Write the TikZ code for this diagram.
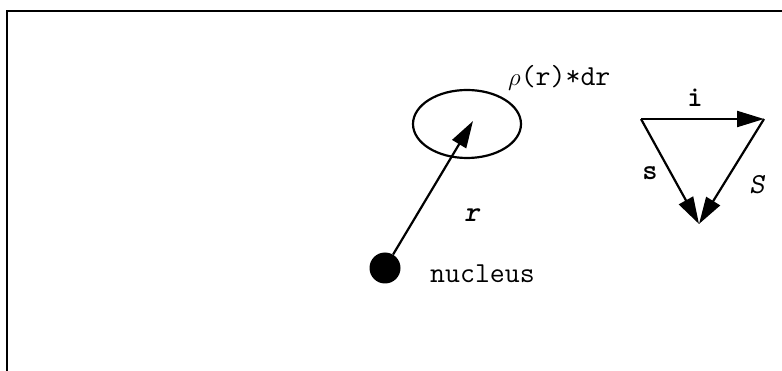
\documentclass[tikz,border=0pt]{standalone}
\usetikzlibrary{arrows.meta, positioning, shapes.geometric}

\begin{document}
\begin{tikzpicture}[x=1pt, y=-1pt,
      vec/.style={-{Triangle[length=27pt, width=16pt]}, line width=2.2pt},
      lbl/.style={font=\fontsize{29}{32}\selectfont\ttfamily, inner sep=0pt},
      bold/.style={font=\fontsize{29}{32}\selectfont\ttfamily\fontseries{b}\selectfont},
      bolditl/.style={font=\fontsize{29}{32}\selectfont\ttfamily\fontseries{b}\fontshape{sl}\selectfont},
      itl/.style={font=\fontsize{29}{32}\selectfont\ttfamily\fontshape{sl}\selectfont}]
    \useasboundingbox (0,0) rectangle (782,371);
    \draw[line width=2.5pt] (7,371) -- (7,11) -- (782,11);
    % electron density element
    \node[circle, fill, minimum size=31pt, inner sep=0pt] (nuc) at (385,268) {};
    \node[ellipse, draw, line width=2.2pt, minimum width=108pt, minimum height=68pt] (elem) at (467,124) {};
    \coordinate (tip) at (473,121);
    \draw[vec] (nuc) -- (tip);
    \node[lbl, bolditl] (rlab) at (472,215) {r};
    \node[lbl, anchor=base west] (nuctxt) at (430,283) {nucleus};
    \node[lbl, anchor=base west] (rho) at (508,86) {$\rho$(r)*dr};
    % spin coupling triangle
    \coordinate (ta) at (641,119); \coordinate (tb) at (764,119);
    \coordinate (tc) at (699,224);
    \draw[vec] (ta) -- (tb); \draw[vec] (ta) -- (tc); \draw[vec] (tb) -- (tc);
    \node[lbl, bold] (ilab) at (695,98) {i};
    \node[lbl, bold] (slab) at (650,173) {s};
    \node[lbl, itl] (Slab) at (757,185) {S};
  \end{tikzpicture}
\end{document}
